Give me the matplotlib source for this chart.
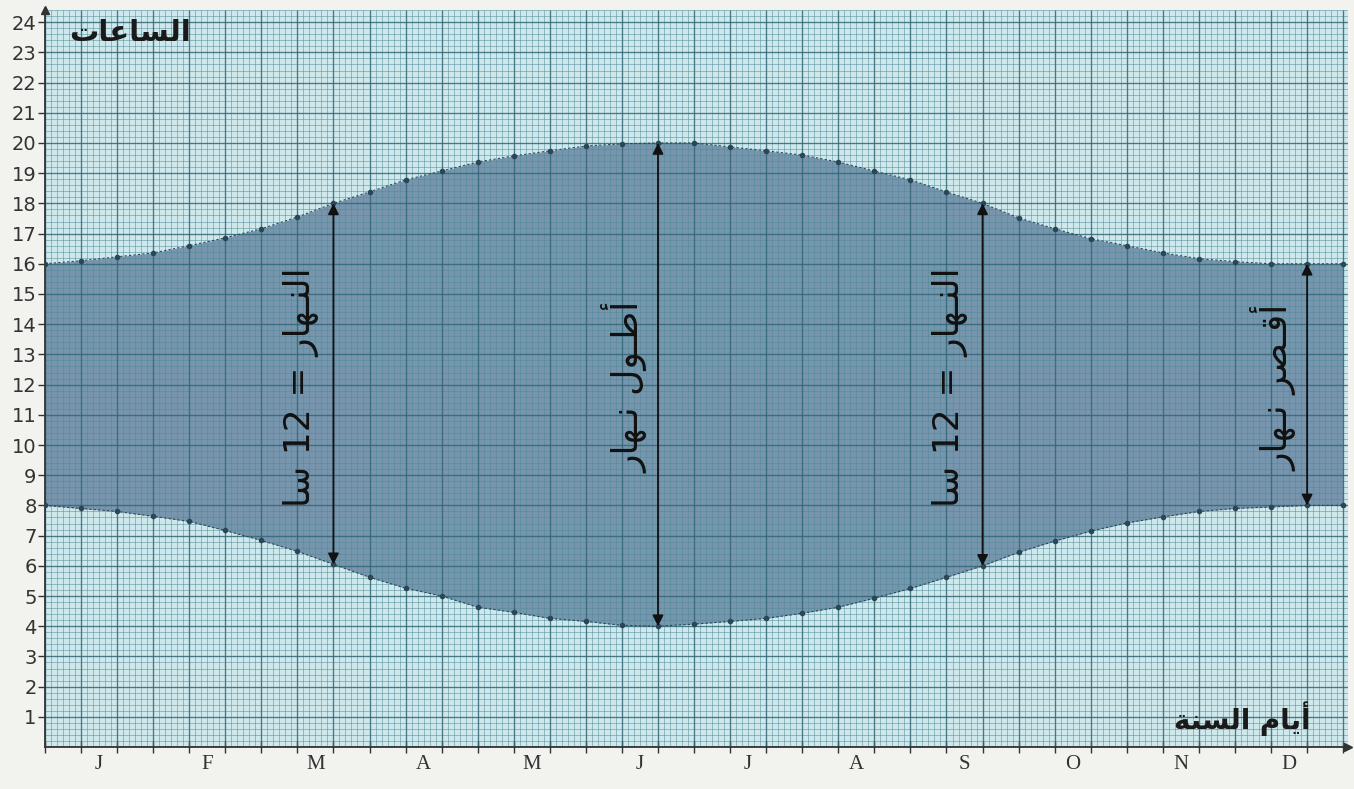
import matplotlib.pyplot as plt
import numpy as np

months = ["J", "F", "M", "A", "M", "J", "J", "A", "S", "O", "N", "D"]
hours = list(range(1, 25))

# readings every third of a month (about 10 days), from Jan 1 to Dec 31
sunset = [16.0, 16.1, 16.23, 16.36, 16.6, 16.86, 17.16, 17.55, 18.0, 18.38,
          18.78, 19.07, 19.37, 19.57, 19.74, 19.9, 19.97, 20.0, 20.0, 19.87,
          19.74, 19.6, 19.37, 19.07, 18.78, 18.38, 18.0, 17.52, 17.16, 16.83,
          16.6, 16.36, 16.17, 16.07, 16.0, 16.0, 16.0]
sunrise = [8.0, 7.9, 7.8, 7.64, 7.47, 7.17, 6.84, 6.48, 6.05, 5.62,
           5.26, 5.0, 4.63, 4.46, 4.26, 4.16, 4.03, 4.0, 4.07, 4.16,
           4.26, 4.43, 4.63, 4.93, 5.25, 5.62, 6.0, 6.45, 6.82, 7.15,
           7.42, 7.62, 7.8, 7.9, 7.95, 8.0, 8.0]

# arrows: equinoxes and solstices (index in the readings)
marks = [8, 17, 26, 35]
# Arabic written in presentation forms, visual order
mark_text = ["\uFE8E\uFEB3 12 = \uFEAD\uFE8E\uFEEC\u0640\uFEE8\uFEDF\uFE8D",
             "\uFEAD\uFE8E\uFEEC\u0640\uFEE7 \uFEDD\uFEEE\u0640\uFEC3\uFE83",
             "\uFE8E\uFEB3 12 = \uFEAD\uFE8E\uFEEC\u0640\uFEE8\uFEDF\uFE8D",
             "\uFEAD\uFE8E\uFEEC\u0640\uFEE7 \uFEAE\uFEBC\u0640\uFED7\uFE83"]
ylabel_txt = "\uFE95\uFE8E\uFECB\uFE8E\uFEB4\uFEDF\uFE8D"
xlabel_txt = "\uFE94\uFEE8\uFEB4\uFEDF\uFE8D \uFEE1\uFE8E\uFEF3\uFE83"

t = np.arange(len(sunset)) / 3.0

fig = plt.figure(figsize=(13.54, 7.89), dpi=100, facecolor="#f2f2ef")
ax = fig.add_axes([0.0332, 0.0532, 0.962, 0.934])
ax.set_facecolor("#cfe8ec")
ax.set_xlim(0, 12.04)
ax.set_ylim(0, 24.4)

# band between sunrise and sunset
ax.fill_between(t, sunrise, sunset, color="#7795ad", zorder=1, lw=0)

# graph paper
xr = np.arange(0, 12.05, 1 / 18)
yr = np.arange(0, 24.45, 0.2)
ax.vlines(xr, 0, 24.4, color="#4f8b99", lw=0.55, alpha=0.65, zorder=2)
ax.hlines(yr, 0, 12.04, color="#4f8b99", lw=0.55, alpha=0.65, zorder=2)
ax.vlines(np.arange(0, 12.05, 1 / 3), 0, 24.4, color="#2f6574", lw=1.0, alpha=0.75, zorder=2)
ax.hlines(np.arange(0, 24.5, 1), 0, 12.04, color="#2f6574", lw=1.0, alpha=0.75, zorder=2)

# curves with their reading points
for curve in (sunset, sunrise):
    ax.plot(t, curve, color="#2b4656", lw=0.8, ls=(0, (2, 2)), zorder=3)
    ax.plot(t, curve, "o", color="#2b4656", ms=3, zorder=3)

for i, txt in zip(marks, mark_text):
    ax.annotate("", xy=(t[i], sunset[i]), xytext=(t[i], sunrise[i]),
                arrowprops=dict(arrowstyle="<|-|>", color="#111111", lw=1.3,
                                mutation_scale=16, shrinkA=0, shrinkB=0),
                zorder=4)
    ax.text(t[i] - 0.3, (sunset[i] + sunrise[i]) / 2 - 0.1, txt, rotation=90,
            ha="center", va="center", fontsize=26, family="DejaVu Sans",
            color="#111111", zorder=4)

ax.text(0.22, 23.65, ylabel_txt, fontsize=21, family="DejaVu Sans",
        weight="bold", ha="left", va="center", color="#1a1a1a", zorder=4)
ax.text(11.7, 0.95, xlabel_txt, fontsize=20, family="DejaVu Sans",
        weight="bold", ha="right", va="center", color="#1a1a1a", zorder=4)

# axes with arrows
for s in ("top", "right"):
    ax.spines[s].set_visible(False)
ax.spines["left"].set_color("#333333")
ax.spines["bottom"].set_color("#333333")
ax.spines["left"].set_linewidth(1.3)
ax.spines["bottom"].set_linewidth(1.3)
ax.plot(0, 24.4, "^", color="#333333", ms=6, clip_on=False, zorder=5)
ax.plot(12.04, 0, ">", color="#333333", ms=6, clip_on=False, zorder=5)

ax.set_yticks(hours)
ax.set_yticklabels([str(h) for h in hours], fontsize=14, color="#333333")
ax.tick_params(axis="y", length=5, width=1, color="#333333", pad=1)

ax.set_xticks(np.arange(0, 12.01, 1 / 3))
ax.set_xticklabels([])
ax.tick_params(axis="x", which="major", direction="inout", length=9, width=1, color="#333333")
ax.set_xticks(np.arange(12) + 0.5, minor=True)
ax.set_xticklabels(months, minor=True, fontsize=15, color="#333333", family="Liberation Serif")
ax.tick_params(axis="x", which="minor", length=0, pad=6)

fig.savefig("out.png", dpi=100, facecolor=fig.get_facecolor())
